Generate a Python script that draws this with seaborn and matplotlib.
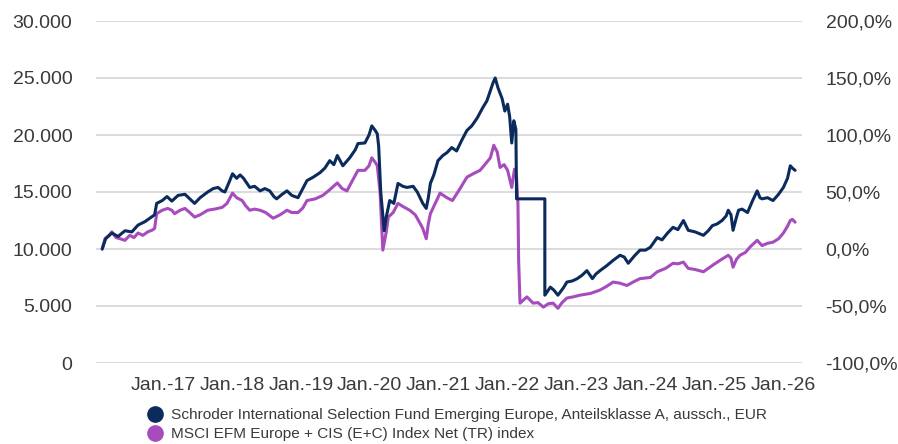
import numpy as np
import pandas as pd
import seaborn as sns
import matplotlib.pyplot as plt
from matplotlib.lines import Line2D
from matplotlib.ticker import FuncFormatter

# Wertentwicklung (Dezimaljahre) - Fonds
fonds_jahre = [
    2016.12, 2016.17, 2016.26, 2016.35, 2016.45, 2016.55, 2016.64, 2016.74, 2016.81, 2016.88,
    2016.91, 2016.99, 2017.06, 2017.13, 2017.22, 2017.32, 2017.39, 2017.46, 2017.54, 2017.65,
    2017.73, 2017.80, 2017.86, 2017.90, 2017.97, 2018.01, 2018.07, 2018.12, 2018.17, 2018.26,
    2018.33, 2018.41, 2018.48, 2018.55, 2018.61, 2018.65, 2018.73, 2018.80, 2018.87, 2018.96,
    2019.02, 2019.09, 2019.18, 2019.28, 2019.35, 2019.42, 2019.48, 2019.53, 2019.61, 2019.71,
    2019.79, 2019.83, 2019.93, 2019.99, 2020.03, 2020.08, 2020.11, 2020.13, 2020.16, 2020.21,
    2020.24, 2020.29, 2020.35, 2020.41, 2020.48, 2020.54, 2020.63, 2020.69, 2020.73, 2020.77,
    2020.82, 2020.85, 2020.88, 2020.93, 2020.99, 2021.06, 2021.12, 2021.19, 2021.26, 2021.34,
    2021.41, 2021.48, 2021.56, 2021.64, 2021.70, 2021.75, 2021.79, 2021.82, 2021.86, 2021.92,
    2021.96, 2022.00, 2022.03, 2022.06, 2022.09, 2022.12, 2022.13, 2022.54, 2022.54, 2022.62,
    2022.67, 2022.73, 2022.81, 2022.86, 2022.94, 2023.01, 2023.08, 2023.15, 2023.23, 2023.28,
    2023.34, 2023.43, 2023.53, 2023.63, 2023.69, 2023.75, 2023.84, 2023.92, 2024.00, 2024.07,
    2024.17, 2024.24, 2024.32, 2024.40, 2024.47, 2024.55, 2024.59, 2024.62, 2024.72, 2024.84,
    2024.91, 2024.97, 2025.04, 2025.11, 2025.17, 2025.20, 2025.24, 2025.27, 2025.32, 2025.35,
    2025.40, 2025.48, 2025.55, 2025.62, 2025.66, 2025.69, 2025.77, 2025.85, 2025.93, 2026.00,
    2026.06, 2026.10, 2026.13, 2026.17,
]
fonds_werte = [
    10000, 10900, 11400, 11100, 11600, 11500, 12100, 12400, 12700, 13000,
    14000, 14250, 14600, 14200, 14700, 14800, 14400, 14000, 14500, 15000,
    15300, 15400, 15100, 15000, 16000, 16600, 16200, 16500, 16200, 15400,
    15500, 15100, 15300, 15100, 14600, 14400, 14800, 15100, 14700, 14500,
    15200, 16000, 16300, 16700, 17100, 17750, 17400, 18200, 17300, 18000,
    18700, 19250, 19300, 20000, 20800, 20400, 20100, 19000, 15000, 11600,
    12800, 14250, 14000, 15750, 15500, 15400, 15500, 15000, 14500, 14000,
    13560, 14500, 15750, 16500, 17750, 18200, 18450, 18900, 18600, 19600,
    20400, 20800, 21500, 22400, 23000, 23900, 24600, 25000, 24150, 23200,
    22100, 22700, 21600, 19300, 21250, 20500, 14400, 14400, 5950, 6650,
    6400, 5950, 6600, 7100, 7200, 7400, 7700, 8100, 7400, 7800,
    8100, 8500, 9000, 9450, 9300, 8750, 9400, 9900, 9900, 10150,
    11000, 10800, 11400, 11900, 11700, 12500, 12000, 11640, 11500, 11200,
    11600, 12050, 12200, 12500, 12900, 13400, 13000, 11640, 12800, 13400,
    13500, 13200, 14200, 15100, 14500, 14400, 14500, 14250, 14800, 15400,
    16200, 17300, 17100, 16900,
]

# Wertentwicklung (Dezimaljahre) - Vergleichsindex
index_jahre = [
    2016.12, 2016.16, 2016.22, 2016.26, 2016.32, 2016.38, 2016.45, 2016.52, 2016.58, 2016.64,
    2016.71, 2016.78, 2016.84, 2016.88, 2016.91, 2016.99, 2017.07, 2017.13, 2017.17, 2017.25,
    2017.32, 2017.39, 2017.46, 2017.54, 2017.65, 2017.75, 2017.86, 2017.93, 2018.01, 2018.07,
    2018.15, 2018.20, 2018.26, 2018.33, 2018.41, 2018.49, 2018.60, 2018.70, 2018.80, 2018.87,
    2018.96, 2019.03, 2019.09, 2019.21, 2019.32, 2019.42, 2019.53, 2019.60, 2019.67, 2019.74,
    2019.83, 2019.93, 2019.99, 2020.03, 2020.08, 2020.11, 2020.15, 2020.19, 2020.24, 2020.27,
    2020.34, 2020.41, 2020.49, 2020.58, 2020.66, 2020.73, 2020.77, 2020.82, 2020.85, 2020.88,
    2020.95, 2021.02, 2021.12, 2021.20, 2021.31, 2021.41, 2021.50, 2021.60, 2021.67, 2021.75,
    2021.80, 2021.85, 2021.89, 2021.95, 2022.00, 2022.06, 2022.10, 2022.13, 2022.15, 2022.16,
    2022.18, 2022.28, 2022.37, 2022.44, 2022.52, 2022.59, 2022.66, 2022.73, 2022.79, 2022.86,
    2022.95, 2023.05, 2023.20, 2023.34, 2023.43, 2023.53, 2023.63, 2023.73, 2023.82, 2023.92,
    2024.07, 2024.17, 2024.29, 2024.40, 2024.47, 2024.55, 2024.62, 2024.72, 2024.84, 2024.91,
    2024.98, 2025.08, 2025.20, 2025.24, 2025.27, 2025.32, 2025.37, 2025.45, 2025.52, 2025.62,
    2025.69, 2025.77, 2025.85, 2025.93, 2026.00, 2026.06, 2026.10, 2026.13, 2026.17,
]
index_werte = [
    10000, 10900, 11200, 11500, 11000, 10900, 10760, 11200, 11000, 11400,
    11200, 11500, 11640, 11800, 13100, 13400, 13560, 13400, 13100, 13400,
    13560, 13200, 12800, 13000, 13400, 13500, 13650, 14000, 14900, 14500,
    14250, 13800, 13400, 13500, 13400, 13200, 12700, 13000, 13400, 13200,
    13200, 13600, 14250, 14400, 14700, 15200, 15800, 15300, 15100, 15900,
    16900, 16900, 17300, 18000, 17600, 17300, 15000, 9900, 11500, 12800,
    13200, 14000, 13700, 13400, 13000, 12250, 11800, 10900, 12200, 13100,
    14000, 14900, 14500, 14250, 15300, 16300, 16600, 16900, 17400, 18000,
    19100, 18500, 17150, 17400, 16900, 15400, 17000, 16200, 14000, 9000,
    5250, 5800, 5250, 5300, 4900, 5200, 5250, 4800, 5300, 5700,
    5800, 5950, 6100, 6400, 6700, 7100, 7000, 6800, 7100, 7400,
    7500, 8000, 8300, 8750, 8700, 8850, 8300, 8200, 8000, 8300,
    8600, 9000, 9450, 9200, 8400, 9100, 9450, 9700, 10200, 10760,
    10300, 10500, 10600, 10900, 11400, 12000, 12500, 12600, 12350,
]

namen = [
    'Schroder International Selection Fund Emerging Europe, Anteilsklasse A, aussch., EUR',
    'MSCI EFM Europe + CIS (E+C) Index Net (TR) index',
]
farben = ['#0b2b5c', '#a64cbd']
jahre_ticks = list(range(2017, 2027))
jahre_labels = [f'Jan.-{j % 100:02d}' for j in jahre_ticks]

sns.set_style('white')
plt.rcParams['font.family'] = ['Liberation Sans', 'DejaVu Sans']
textfarbe = '#3a3a3a'

fig = plt.figure(figsize=(8.98, 4.44), dpi=100)
ax = fig.add_axes([96 / 898, 1 - 363 / 444, (802 - 96) / 898, (363 - 21) / 444])

df_fonds = pd.DataFrame({'Jahr': fonds_jahre, 'Wert': fonds_werte})
df_index = pd.DataFrame({'Jahr': index_jahre, 'Wert': index_werte})

# Index zuerst, Fonds darueber
sns.lineplot(data=df_index, x='Jahr', y='Wert', ax=ax, color=farben[1],
             linewidth=2.2, sort=False, estimator=None)
sns.lineplot(data=df_fonds, x='Jahr', y='Wert', ax=ax, color=farben[0],
             linewidth=2.2, sort=False, estimator=None)

ax.set_xlim(2016.03, 2026.27)
ax.set_ylim(0, 30000)
ax.set_yticks(np.arange(0, 30001, 5000))
ax.yaxis.set_major_formatter(FuncFormatter(lambda v, p: f'{int(v):,}'.replace(',', '.')))
ax.set_xticks(jahre_ticks)
ax.set_xticklabels(jahre_labels)
ax.set_xlabel('')
ax.set_ylabel('')
ax.grid(axis='y', color='#dcdcdc', linewidth=1.5)
ax.grid(axis='x', visible=False)
ax.set_axisbelow(True)
for s in ax.spines.values():
    s.set_visible(False)
ax.tick_params(axis='y', length=0, pad=17, labelsize=14, labelcolor=textfarbe)
ax.tick_params(axis='x', length=0, pad=10, labelsize=14, labelcolor=textfarbe)

# rechte Achse in Prozent
ax2 = ax.twinx()
ax2.set_ylim(-1, 2)
ax2.set_yticks(np.arange(-1, 2.01, 0.5))
ax2.yaxis.set_major_formatter(FuncFormatter(lambda v, p: f'{v * 100:.1f}%'.replace('.', ',')))
for s in ax2.spines.values():
    s.set_visible(False)
ax2.tick_params(axis='y', length=0, pad=17, labelsize=14, labelcolor=textfarbe)

# Legende
handles = [Line2D([], [], marker='o', linestyle='none', markersize=11,
                  markerfacecolor=c, markeredgecolor=c) for c in farben]
fig.legend(handles, namen, loc='upper left', bbox_to_anchor=(146 / 898, 1 - 408 / 444),
           frameon=False, fontsize=11.1, handletextpad=0.45, labelspacing=0.32,
           borderpad=0, borderaxespad=0, handlelength=1.2, labelcolor=textfarbe)

fig.savefig('out.png', dpi=100)
